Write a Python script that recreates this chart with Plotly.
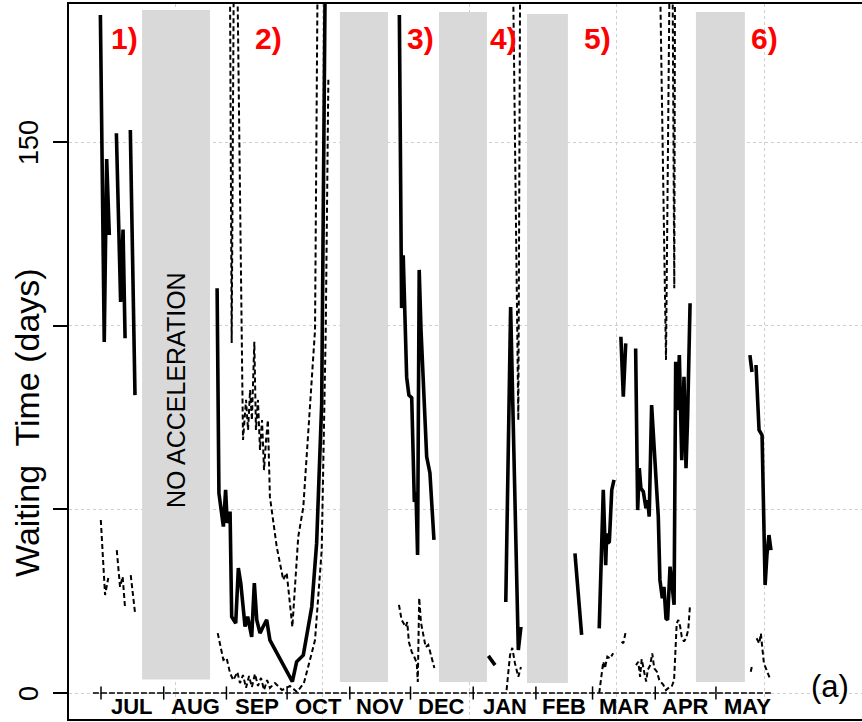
import plotly.graph_objects as go

# ---- time axis: days counted from 1 July ----
month_names = ["JUL", "AUG", "SEP", "OCT", "NOV", "DEC", "JAN", "FEB", "MAR", "APR", "MAY"]
month_lengths = [31, 31, 30, 31, 30, 31, 31, 28, 31, 30, 31]

# ---- waiting time series (days); None separates sampling campaigns ----
median_day = [
    -0.3, 1.6, 2.8, 4.1, None,
    7.6, 9.7, 10.9, 11.9, None,
    14.5, 16.8, None,
    57.4, 58.3, 60.5, 61.6, 62.4, 63.8, 64.6, 66.6, 67.9, 69.1, 71.2, 72.5, 74.5, 75.8,
    77.0, 78.6, 80.2, 81.9, 83.5, 94.6, 96.7, 98.4, 100.0, 104.2, 106.6, 109.1, 111.5, None,
    147.5, 148.6, 149.4, 150.6, 151.1, 152.2, 153.6, 154.9, 155.7, 156.5, 157.3, 158.2,
    159.8, 161.0, 162.6, 164.6, None,
    191.5, 194.8, None,
    200.1, 202.5, 206.3, 207.6, None,
    234.3, 237.6, None,
    246.3, 248.3, 249.5, 250.0, 250.5, 251.3, 252.5, 253.6, None,
    257.0, 258.2, 259.4, None,
    264.3, 265.3, 266.1, 266.9, 268.1, 269.4, 270.3, 271.0, 272.2, 274.7, 275.5, 276.3,
    277.5, 278.3, 279.3, 280.1, 281.3, 282.4, 283.3, 284.1, 284.9, 285.9, 287.1, 288.2,
    289.2, 290.0, 291.2, None,
    320.8, 321.8, None,
    323.8, 325.3, 326.8, 328.3, 329.2, 330.2, 331.2,
]
median_wait = [
    184.6, 95.6, 145.4, 124.7, None,
    152.4, 106.5, 126.2, 96.6, None,
    153.3, 81.1, None,
    110.2, 54.4, 45.3, 55.3, 46.3, 49.4, 20.8, 19.0, 34.0, 29.9, 18.1, 20.8, 15.3, 29.9,
    19.9, 16.3, 18.1, 19.9, 14.4, 3.1, 8.5, 9.4, 10.3, 23.5, 40.8, 78.9, 240.0, None,
    184.6, 104.8, 119.2, 98.8, 86.0, 81.1, 80.4, 52.0, 54.7, 37.6, 115.2, 98.8,
    80.6, 64.3, 59.9, 41.7, None,
    10.1, 7.6, None,
    24.8, 105.1, 11.7, 18.0, None,
    38.0, 15.8, None,
    17.6, 55.3, 34.8, 43.5, 40.8, 41.2, 55.3, 58.0, None,
    97.0, 80.7, 95.2, None,
    93.8, 49.8, 61.2, 55.7, 54.8, 50.3, 52.5, 48.0, 78.4, 52.5, 48.0, 30.8,
    25.8, 28.9, 20.3, 19.9, 34.4, 28.9, 24.0, 90.2, 77.0, 92.0, 63.4, 86.1,
    61.2, 75.2, 106.1, None,
    92.0, 87.4, None,
    89.3, 71.6, 70.2, 29.4, 37.6, 43.0, 38.9,
]

upper_day = [
    63.3, 64.6, 66.2, 70.2, 71.7, 72.7, 73.7, 74.6, 75.8, 76.6, 77.6, 78.6, 79.6, 80.6,
    81.6, 82.5, 83.5, 86.9, 90.1, 91.8, 94.6, 97.5, 100.0, 104.2, 105.8, 107.8, None,
    202.5, 206.3, 207.6, None,
    274.8, 279.3, 282.0, 283.4, 284.0,
]
upper_wait = [
    250.0, 95.3, 250.0, 68.9, 79.8, 71.6, 82.5, 74.3, 95.6, 71.6, 79.8, 66.2, 74.3, 60.7,
    68.9, 74.3, 53.4, 39.7, 30.8, 32.7, 18.0, 42.5, 50.6, 85.2, 98.8, 250.0, None,
    250.0, 74.3, 250.0, None,
    250.0, 90.7, 250.0, 110.2, 250.0,
]

lower_day = [
    -0.1, 2.0, 3.6, None,
    7.8, 9.4, 10.7, 11.9, None,
    14.7, 16.8, None,
    57.7, 59.3, 60.5, 62.1, 63.8, 65.4, 67.4, 68.7, 70.2, 71.7, 73.2, 74.6, 76.1, 77.6,
    79.1, 80.6, 82.1, 83.5, 86.0, 89.5, 93.4, 96.9, 100.3, 103.3, 105.8, 109.1, 111.1, 112.4, None,
    147.3, 148.6, 150.6, 151.4, 152.2, 153.6, 154.9, 156.1, 156.6, 157.3, 158.2, 159.3,
    160.5, 161.8, 163.5, 164.8, None,
    200.5, 202.2, 203.3, 204.6, 206.3, 207.6, None,
    246.3, 247.5, 248.3, 249.1, 250.3, 251.6, 253.2, None,
    257.4, 258.2, 259.4, None,
    264.5, 265.6, 266.5, 267.3, 268.5, 269.5, 270.3, 271.5, 272.5, 273.5, 274.8, 276.0,
    278.0, 279.3, 280.4, 282.1, 283.3, 283.8, 284.6, 285.4, 286.3, 287.1, 288.2, 289.2,
    290.3, 291.2, None,
    321.2, 321.7, None,
    324.1, 325.4, 326.2, 326.9, 327.7, 329.0, 331.0,
]
lower_wait = [
    47.1, 26.7, 31.3, None,
    38.9, 28.9, 31.7, 23.1, None,
    32.1, 21.9, None,
    16.3, 11.7, 9.0, 9.5, 5.4, 3.5, 5.7, 2.7, 4.9, 1.4, 4.6, 1.6, 5.2, 1.9,
    4.1, 0.8, 3.5, 1.4, 2.7, 0.8, 1.9, 0.3, 2.7, 9.0, 14.4, 38.9, 98.8, 167.7, None,
    24.0, 19.9, 18.0, 19.3, 13.9, 11.2, 9.8, 8.2, 3.0, 25.9, 19.1, 15.8,
    12.5, 13.1, 9.5, 6.8, None,
    0.8, 10.3, 12.3, 8.2, 4.4, 7.1, None,
    0.0, 4.4, 8.5, 6.7, 9.9, 9.4, 10.8, None,
    14.0, 13.5, 16.7, None,
    7.6, 8.5, 4.4, 9.2, 5.8, 3.1, 6.3, 7.6, 10.8, 6.7, 5.8, 3.5,
    2.2, 0.8, 1.3, 1.7, 3.5, 11.7, 19.0, 19.9, 18.1, 15.3, 14.0, 14.9,
    17.2, 24.0, None,
    5.8, 7.1, None,
    14.9, 13.5, 16.2, 11.7, 8.1, 6.3, 3.5,
]

# ---- periods without acceleration (shaded) ----
gap_start = [20.3, 118.1, 167.1, 210.6, 294.1]
gap_end = [53.9, 141.9, 190.8, 230.8, 318.3]
gap_bottom = [3.7, 3.0, 3.0, 2.7, 3.0]
gap_top = [186.0, 185.4, 185.4, 184.9, 185.4]

# ---- campaign labels ----
panel_labels = ["1)", "2)", "3)", "4)", "5)", "6)"]
panel_day = [11.6, 82.7, 157.7, 198.9, 245.2, 328.0]
panel_height = 178.2

month_start = [sum(month_lengths[:i]) for i in range(len(month_lengths))]
month_mid = [s + n / 2 for s, n in zip(month_start, month_lengths)]

X_RANGE = [-15.82, 376.2]
Y_RANGE = [-7.08, 187.6]
TEXT_FONT = "Liberation Sans, Arial, sans-serif"
GRID = "#cfcfcf"

fig = go.Figure()

dash_style = dict(color="black", width=2.0, dash="5px,3px")
fig.add_trace(go.Scatter(x=upper_day, y=upper_wait, mode="lines", connectgaps=False,
                         line=dash_style, hoverinfo="skip"))
fig.add_trace(go.Scatter(x=lower_day, y=lower_wait, mode="lines", connectgaps=False,
                         line=dash_style, hoverinfo="skip"))
fig.add_trace(go.Scatter(x=median_day, y=median_wait, mode="lines", connectgaps=False,
                         line=dict(color="black", width=3.6), hoverinfo="skip"))

shapes = []
for x0, x1, y0, y1 in zip(gap_start, gap_end, gap_bottom, gap_top):
    shapes.append(dict(type="rect", xref="x", yref="y", x0=x0, x1=x1, y0=y0, y1=y1,
                       fillcolor="#d9d9d9", line=dict(width=0), layer="between"))

# time axis drawn along zero, with month ticks crossing it
shapes.append(dict(type="line", xref="x", yref="y", x0=-4, x1=332, y0=0, y1=0,
                   line=dict(color="black", width=1.5, dash="6px,2px"), layer="above"))
for s in month_start:
    shapes.append(dict(type="line", xref="x", yref="y", x0=s, x1=s, y0=-1.8, y1=1.8,
                       line=dict(color="black", width=1.5), layer="above"))

annotations = []
for name, mid in zip(month_names, month_mid):
    annotations.append(dict(x=mid, y=-3.8, xref="x", yref="y", text=f"<b>{name}</b>",
                            showarrow=False, font=dict(family=TEXT_FONT, size=22, color="black"),
                            xanchor="center", yanchor="middle"))
for lab, d in zip(panel_labels, panel_day):
    annotations.append(dict(x=d, y=panel_height, xref="x", yref="y", text=f"<b>{lab}</b>",
                            showarrow=False, font=dict(family=TEXT_FONT, size=30, color="#ff0000"),
                            xanchor="center", yanchor="middle"))
# value labels of the waiting-time axis, written upright along the axis
for v, t in [(0, "0"), (150, "150")]:
    annotations.append(dict(x=-0.0505, y=v, xref="paper", yref="y", text=t, textangle=-90,
                            showarrow=False, font=dict(family=TEXT_FONT, size=27, color="black"),
                            xanchor="center", yanchor="middle"))
annotations.append(dict(x=-0.053, y=73.8, xref="paper", yref="y",
                        text="Waiting\u00a0 Time (days)", textangle=-90, showarrow=False,
                        font=dict(family=TEXT_FONT, size=34, color="black"),
                        xanchor="center", yanchor="middle"))
annotations.append(dict(x=(gap_start[0] + gap_end[0]) / 2, y=82.5, xref="x", yref="y",
                        text="NO ACCELERATION", textangle=-90, showarrow=False,
                        font=dict(family=TEXT_FONT, size=25, color="black"),
                        xanchor="center", yanchor="middle"))
annotations.append(dict(x=360.4, y=1.9, xref="x", yref="y", text="(a)", showarrow=False,
                        font=dict(family=TEXT_FONT, size=31, color="black"),
                        xanchor="center", yanchor="middle"))

fig.update_layout(
    width=862, height=722,
    margin=dict(l=69, r=0, t=4, b=3),
    paper_bgcolor="white", plot_bgcolor="white",
    showlegend=False,
    shapes=shapes, annotations=annotations,
    xaxis=dict(range=X_RANGE, showgrid=True, gridcolor=GRID, griddash="dot", gridwidth=1,
               tick0=36.6, dtick=72.8, ticks="", showticklabels=False, zeroline=False,
               showline=True, linecolor="black", linewidth=2, mirror=True),
    yaxis=dict(range=Y_RANGE, showgrid=True, gridcolor=GRID, griddash="dot", gridwidth=1,
               tick0=0, dtick=50, ticks="outside", ticklen=14, tickwidth=1.5, tickcolor="black",
               showticklabels=False, zeroline=False,
               showline=True, linecolor="black", linewidth=2, mirror=False),
)

fig.write_html("out.html")
